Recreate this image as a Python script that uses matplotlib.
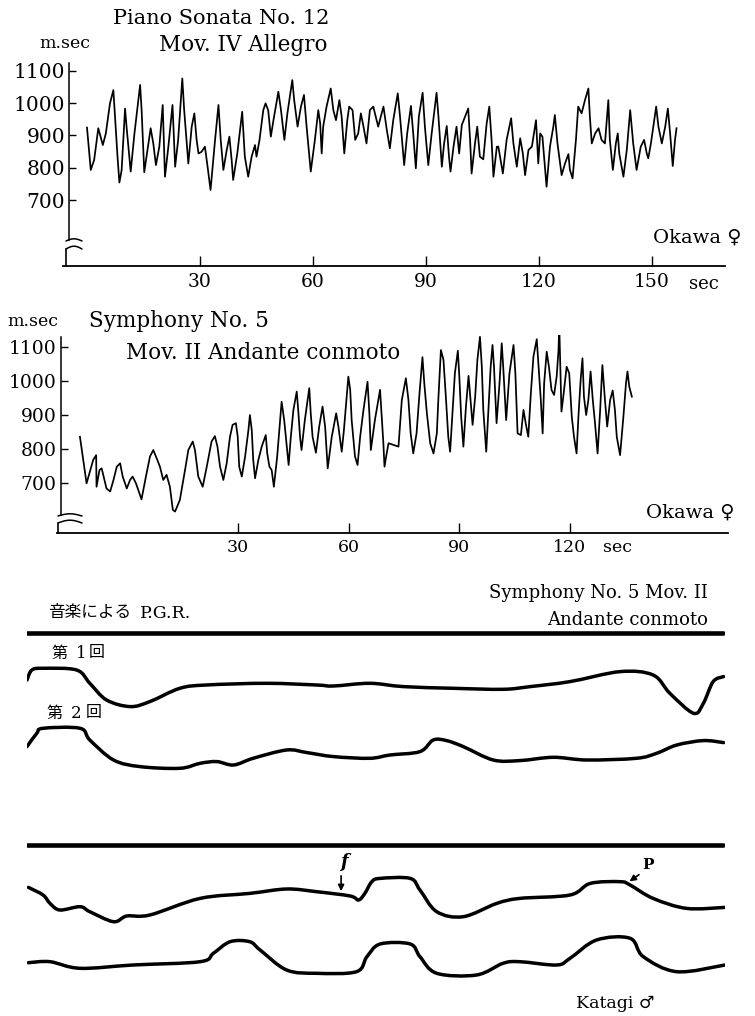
import numpy as np
import matplotlib
matplotlib.use('Agg')
import matplotlib.pyplot as plt
from matplotlib.lines import Line2D
from matplotlib.path import Path
from matplotlib.patches import PathPatch

# ---------------- data ----------------
# Piano Sonata No. 12, Mov. IV Allegro (Okawa) : time (sec) vs interval (m.sec)
sonata_t = [0.0, 1.0, 1.9, 3.0, 4.2, 5.0, 6.1, 7.0, 8.1, 8.6, 9.2, 10.1, 10.5, 11.6, 12.6, 14.1, 14.5, 15.2,
            15.8, 16.9, 17.6, 18.3, 19.2, 20.1, 20.7, 21.6, 22.7, 23.4, 24.2, 25.3, 25.8, 26.9, 27.8, 28.5,
            29.1, 29.6, 30.4, 31.3, 31.9, 32.8, 34.0, 34.9, 35.5, 36.2, 37.1, 37.8, 38.4, 38.8, 39.9, 41.2,
            41.9, 42.8, 43.7, 44.6, 45.0, 45.8, 46.8, 47.4, 48.1, 48.8, 49.5, 50.8, 51.5, 52.4, 53.2, 54.5,
            55.0, 55.9, 56.8, 57.6, 58.3, 59.4, 60.5, 61.4, 61.9, 62.3, 62.7, 63.6, 64.7, 65.4, 66.1, 67.0,
            67.6, 68.3, 69.1, 69.6, 70.5, 71.2, 72.0, 72.7, 73.4, 74.2, 75.1, 76.0, 77.3, 78.7, 79.6, 80.4,
            81.3, 82.5, 83.1, 84.2, 85.0, 86.0, 86.6, 87.3, 88.1, 89.1, 89.7, 90.6, 91.5, 92.8, 93.3, 94.2,
            94.8, 95.5, 96.1, 96.5, 97.3, 98.1, 98.8, 99.5, 101.2, 101.7, 102.1, 103.0, 103.6, 104.3, 105.2,
            106.1, 106.8, 107.4, 107.9, 108.8, 109.2, 110.4, 111.4, 112.6, 113.2, 114.1, 115.0, 115.7, 116.3,
            117.2, 118.1, 119.2, 119.8, 120.3, 120.9, 122.0, 122.9, 123.8, 124.2, 124.9, 126.0, 126.9, 127.8,
            128.2, 128.9, 129.8, 130.4, 131.3, 132.2, 133.1, 133.5, 134.0, 134.9, 135.8, 136.6, 137.5, 138.4,
            138.8, 139.6, 140.4, 140.9, 141.3, 142.4, 143.3, 144.2, 145.0, 145.9, 147.0, 147.9, 148.6, 149.0,
            149.7, 151.1, 151.7, 152.6, 153.5, 154.2, 154.8, 155.5, 156.1, 156.5]
sonata_ms = [924, 793, 824, 922, 870, 906, 999, 1040, 834, 754, 793, 983, 927, 788, 906, 1056, 978, 786,
             834, 922, 875, 808, 865, 994, 772, 865, 994, 803, 886, 1076, 978, 813, 927, 968,
             886, 844, 849, 865, 813, 731, 886, 994, 886, 793, 855, 896, 824, 762, 844, 973,
             834, 772, 834, 870, 834, 886, 978, 999, 978, 896, 947, 1035, 978, 886, 968, 1071,
             1009, 927, 989, 1025, 927, 788, 886, 978, 937, 844, 927, 989, 1045, 978, 947, 1009,
             958, 844, 947, 989, 978, 886, 906, 968, 927, 875, 978, 989, 927, 989, 916, 860,
             947, 1030, 958, 808, 906, 991, 906, 798, 958, 1032, 927, 808, 906, 1032, 958, 803,
             875, 929, 834, 788, 865, 927, 844, 932, 983, 886, 782, 875, 927, 834, 826,
             937, 989, 886, 772, 865, 865, 782, 886, 953, 875, 803, 891, 844, 777,
             855, 865, 947, 813, 906, 896, 741, 865, 927, 963, 875, 777, 813, 842,
             793, 767, 886, 989, 968, 1009, 1045, 958, 875, 906, 922, 886, 875, 1009,
             886, 793, 875, 906, 844, 772, 855, 978, 875, 793, 865, 886, 844, 829,
             875, 989, 927, 875, 927, 983, 906, 805, 886, 922]

# Symphony No. 5, Mov. II Andante con moto (Okawa)
sym_t = [-12.9, -11.1, -9.3, -8.5, -8.4, -7.6, -7.0, -5.7, -4.7, -3.8, -2.9, -2.0, -1.3, -0.2, 0.7, 1.4,
         2.3, 3.8, 5.0, 6.1, 7.0, 7.9, 8.8, 9.7, 10.6, 11.5, 12.3, 12.9, 14.2, 15.6, 16.5, 17.7, 18.3,
         19.2, 20.4, 21.5, 22.8, 23.7, 24.4, 25.1, 26.0, 26.9, 27.8, 28.5, 29.4, 29.9, 30.3, 31.0, 31.9,
         32.8, 33.2, 33.7, 34.1, 34.6, 35.5, 36.4, 37.5, 37.9, 38.5, 39.1, 39.7, 40.6, 41.4, 41.8, 42.5,
         43.2, 43.7, 44.3, 45.0, 45.9, 46.3, 46.8, 47.2, 48.1, 49.3, 49.7, 50.2, 51.1, 52.0, 52.9, 53.6,
         54.3, 55.4, 56.6, 57.2, 58.1, 58.7, 59.9, 60.4, 60.8, 61.7, 62.4, 63.1, 64.0, 65.1, 65.6, 66.0,
         67.1, 68.5, 69.4, 69.7, 70.3, 70.8, 73.5, 74.4, 75.5, 76.2, 76.8, 77.5, 78.4, 79.2, 80.0, 80.5,
         81.2, 82.1, 83.0, 83.9, 84.3, 85.0, 85.7, 86.4, 87.0, 87.5, 88.2, 88.8, 89.6, 90.0, 90.5, 91.1,
         91.8, 92.5, 93.2, 93.6, 94.3, 94.9, 95.6, 96.1, 96.5, 97.3, 97.9, 98.5, 99.0, 99.4, 100.1, 100.9,
         101.5, 101.9, 102.7, 103.6, 104.7, 105.2, 105.8, 106.7, 107.4, 108.0, 108.7, 109.4, 110.1, 111.0,
         111.5, 112.1, 112.6, 113.0, 113.7, 114.3, 115.0, 115.7, 116.4, 116.9, 117.1, 117.4, 117.7, 118.2,
         119.1, 119.8, 120.5, 121.1, 121.8, 122.3, 122.9, 123.4, 123.8, 124.4, 125.0, 125.6, 126.2, 126.8,
         127.5, 128.2, 128.8, 129.5, 130.1, 130.9, 131.6, 132.2, 132.7, 133.6, 134.5, 135.2, 135.6, 136.1,
         136.8]
sym_ms = [836, 699, 768, 782, 689, 738, 743, 684, 675, 709, 748, 758, 719, 684, 709, 719,
          699, 652, 719, 778, 797, 773, 748, 709, 724, 689, 621, 616, 650, 738, 797, 822, 797,
          719, 689, 748, 822, 838, 807, 748, 709, 758, 836, 871, 876, 836, 748, 719, 778,
          856, 900, 856, 768, 714, 768, 807, 841, 787, 748, 738, 689, 778, 885, 939, 885,
          807, 753, 836, 915, 969, 915, 836, 797, 885, 979, 905, 836, 789, 866, 925, 866,
          743, 836, 905, 866, 792, 856, 1013, 974, 885, 778, 753, 836, 915, 998, 905, 797,
          885, 974, 817, 748, 787, 817, 807, 944, 1008, 944, 846, 787, 846, 964, 1070, 993,
          905, 817, 787, 846, 944, 1091, 1062, 944, 836, 792, 915, 1023, 1089, 1013, 895, 807,
          925, 1015, 925, 871, 954, 1062, 1130, 1042, 915, 792, 915, 1042, 1106, 1042, 876, 993,
          1111, 1042, 885, 1023, 1106, 1023, 846, 841, 915, 876, 836, 964, 1072, 1123,
          1042, 944, 846, 993, 1086, 1042, 974, 959, 1013, 1091, 1165, 1042, 910, 954,
          1042, 1023, 895, 836, 787, 895, 1003, 1067, 954, 900, 944, 1028, 944, 876,
          787, 915, 1047, 944, 866, 944, 972, 915, 836, 782, 895, 993, 1028, 983,
          954]

ms_ticks = [700, 800, 900, 1000, 1100]
sonata_sec_ticks = [30, 60, 90, 120, 150]
sym_sec_ticks = [30, 60, 90, 120]

# P.G.R. records (percent of record length, relative deflection)
pgr1_x = [0.0, 0.7, 2.3, 7.1, 9.0, 11.4, 14.8, 17.6, 21.9, 25.7, 34.3, 41.5, 43.9, 49.1, 53.9, 61.1,
          68.2, 72.1, 77.8, 85.0, 89.7, 92.1, 95.5, 96.9, 98.3, 99.8]
pgr1_y = [33.3, 43.3, 45.0, 43.3, 30.0, 13.3, 6.7, 11.7, 25.0, 28.3, 30.0, 28.3, 27.3, 30.0, 26.7, 25.0,
          24.0, 26.7, 31.7, 41.7, 38.3, 20.0, 0.0, 10.0, 31.7, 36.7]
pgr2_x = [0.0, 1.4, 2.3, 7.6, 9.0, 12.4, 16.2, 21.9, 24.8, 27.2, 29.6, 32.4, 37.2, 40.1, 43.9, 49.1,
          52.0, 56.3, 58.2, 60.1, 62.5, 66.8, 70.6, 75.4, 80.2, 87.3, 90.2, 93.1, 96.9, 99.8]
pgr2_y = [21.7, 35.0, 40.0, 40.0, 28.3, 8.3, 1.7, 0.0, 5.0, 6.7, 3.3, 10.0, 18.3, 15.7, 11.7, 10.0,
          13.3, 16.7, 28.3, 27.7, 21.7, 8.3, 7.7, 11.0, 8.3, 10.0, 15.0, 23.3, 27.7, 25.7]
pgr3_x = [0.2, 2.3, 3.3, 4.7, 7.6, 9.0, 12.4, 14.3, 17.6, 24.8, 31.9, 37.2, 41.5, 46.3, 47.5, 48.4,
          49.4, 50.6, 54.9, 56.3, 58.7, 62.5, 67.3, 70.6, 77.8, 80.7, 85.0, 86.4, 89.7, 94.5, 100.0]
pgr3_y = [34.3, 26.7, 18.3, 11.7, 15.0, 10.0, 0.0, 5.7, 6.7, 23.3, 28.3, 32.7, 30.0, 25.7, 21.7, 28.3,
          40.0, 43.3, 43.3, 31.7, 10.0, 5.0, 18.3, 23.3, 26.7, 38.3, 40.0, 36.7, 23.3, 13.3, 14.3]
pgr4_x = [0.2, 3.3, 7.6, 15.2, 24.8, 26.7, 29.1, 31.9, 33.4, 37.2, 41.5, 47.2, 48.7, 50.6, 54.9, 56.3,
          58.7, 64.4, 68.2, 70.6, 75.9, 77.8, 81.6, 86.4, 88.3, 93.1, 100.0]
pgr4_y = [12.3, 13.3, 6.7, 10.0, 13.3, 21.7, 33.3, 33.3, 25.0, 5.0, 1.7, 3.3, 18.3, 31.0, 31.0, 18.3,
          1.7, 0.0, 11.7, 13.3, 10.0, 16.7, 35.0, 36.7, 18.3, 3.3, 10.0]

# ---------------- layout helpers ----------------
W, H = 755, 1016
SERIF = ['DejaVu Serif', 'DejaVu Sans']
CJK = ['Noto Sans CJK JP', 'DejaVu Sans']
plt.rcParams['font.family'] = SERIF

fig = plt.figure(figsize=(W / 100, H / 100), dpi=100)


def frac_rect(l, t, r, b):
    return [l / W, 1 - b / H, (r - l) / W, (b - t) / H]


def ftext(x, y, s, **kw):
    kw.setdefault('va', 'center')
    fig.text(x / W, 1 - y / H, s, **kw)


def fline(xs, ys, lw=1.2):
    fig.add_artist(Line2D([x / W for x in xs], [1 - y / H for y in ys],
                          transform=fig.transFigure, color='k', lw=lw,
                          solid_capstyle='round'))


def arc(x0, x1, y, amp, lw=1.1):
    s = np.linspace(0, 1, 15)
    fline(x0 + (x1 - x0) * s, y - amp * np.sin(np.pi * s), lw)


def style_axis(ax, spine_t, lo, hi, ticks, xticks, labsize, xlabsize, xpad):
    for side in ('top', 'right'):
        ax.spines[side].set_visible(False)
    ax.spines['left'].set_position(('data', spine_t))
    ax.spines['left'].set_bounds(lo, hi)
    ax.spines['left'].set_linewidth(1.1)
    ax.spines['bottom'].set_linewidth(1.3)
    ax.set_yticks(ticks)
    ax.set_xticks(xticks)
    ax.tick_params(axis='y', direction='in', length=5, width=1.0, pad=3, labelsize=labsize)
    ax.tick_params(axis='x', direction='in', length=7, width=1.0, pad=xpad, labelsize=xlabsize)
    ax.patch.set_alpha(0)


def smooth_path(xs, ys):
    """Cubic Bezier path passing through every recorded point (drawing style only)."""
    P = np.column_stack([xs, ys]).astype(float)
    verts = [P[0]]
    codes = [Path.MOVETO]
    n = len(P)
    for i in range(n - 1):
        p0 = P[i - 1] if i > 0 else P[i]
        p1, p2 = P[i], P[i + 1]
        p3 = P[i + 2] if i + 2 < n else P[i + 1]
        verts += [p1 + (p2 - p0) / 6.0, p2 - (p3 - p1) / 6.0, p2]
        codes += [Path.CURVE4] * 3
    return Path(verts, codes)


# ---------------- panel 1 ----------------
ax1 = fig.add_axes(frac_rect(63, 60, 725, 266))
ax1.plot(sonata_t, sonata_ms, color='k', lw=1.25)
ax1.set_xlim(-6.37, 169.37)
ax1.set_ylim(495.9, 1133.1)
style_axis(ax1, -4.65, 576, 1124, ms_ticks, sonata_sec_ticks, 14.5, 13.5, 5)
arc(66, 82, 241, 2.2)
arc(66, 82, 249, 2.8)
fline([66, 66], [249, 266])

ftext(221, 19, 'Piano Sonata No. 12', ha='center', size=15)
ftext(243, 45, 'Mov. IV Allegro', ha='center', size=15.5)
ftext(65, 44, 'm.sec', ha='center', size=12.5)
ftext(697, 238, 'Okawa \u2640', ha='center', size=14)
ftext(704, 284, 'sec', ha='center', size=13)

# ---------------- panel 2 ----------------
ax2 = fig.add_axes(frac_rect(57, 335, 728, 533))
ax2.plot(sym_t, sym_ms, color='k', lw=1.25)
ax2.set_xlim(-19.12, 162.87)
ax2.set_ylim(553, 1135.3)
style_axis(ax2, -18.04, 606, 1130, ms_ticks, sym_sec_ticks, 13.5, 12.5, 4)
arc(58, 82, 516, 2.2)
arc(58, 82, 523, 2.8)
fline([58, 58], [523, 533])

ftext(33, 322, 'm.sec', ha='center', size=12.5)
ftext(179, 321, 'Symphony No. 5', ha='center', size=15.5)
ftext(263, 353, 'Mov. II Andante conmoto', ha='center', size=15.5)
ftext(690, 513, 'Okawa \u2640', ha='center', size=14)
ftext(617, 547, 'sec', ha='center', size=12.5)

# ---------------- P.G.R. records ----------------
axb = fig.add_axes(frac_rect(27, 570, 725, 1016))
axb.set_xlim(0, 100)
axb.set_ylim(0, 446)
axb.axis('off')
row_base = [302.7, 247.7, 94.3, 41.0]
traces = [(pgr1_x, pgr1_y), (pgr2_x, pgr2_y), (pgr3_x, pgr3_y), (pgr4_x, pgr4_y)]
for (tx, ty), b in zip(traces, row_base):
    axb.add_patch(PathPatch(smooth_path(tx, [b + v for v in ty]), fill=False,
                            edgecolor='k', lw=2.5, capstyle='round', joinstyle='round'))
# stimulus (music) bars
for yb in (383, 171):
    axb.plot([0, 99.7], [yb, yb], color='k', lw=3.3, solid_capstyle='round')

axb.annotate('', xy=(45.0, 122), xytext=(45.0, 143),
             arrowprops=dict(arrowstyle='-|>', color='k', lw=1.2, mutation_scale=9))
axb.annotate('', xy=(86.0, 133), xytext=(88.0, 143),
             arrowprops=dict(arrowstyle='-|>', color='k', lw=1.2, mutation_scale=9))
ftext(344, 862, 'f', ha='center', size=13, style='italic', weight='bold')
ftext(648, 865, 'P', ha='center', size=11, weight='bold')

ftext(48, 613, '音楽による', ha='left', size=12, family=CJK)
ftext(140, 613, 'P.G.R.', ha='left', size=12.5)
ftext(59, 653, '第', ha='center', size=11.5, family=CJK)
ftext(81.5, 653, '1', ha='center', size=12)
ftext(96.5, 653, '回', ha='center', size=11.5, family=CJK)
ftext(54, 713, '第', ha='center', size=11.5, family=CJK)
ftext(76, 713, '2', ha='center', size=12)
ftext(94, 713, '回', ha='center', size=11.5, family=CJK)
ftext(708, 593, 'Symphony No. 5 Mov. II', ha='right', size=13)
ftext(708, 620, 'Andante conmoto', ha='right', size=13)
ftext(615, 1003, 'Katagi \u2642', ha='center', size=12.5)

fig.savefig('out.png', dpi=100, facecolor='white')
